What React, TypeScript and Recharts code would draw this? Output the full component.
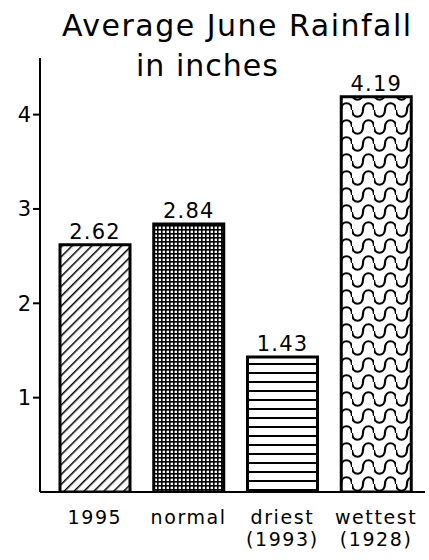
import { BarChart, Bar, XAxis, YAxis, LabelList, Cell } from "recharts";

// Average June rainfall (inches)
const categories = ["1995", "normal", "driest", "wettest"];
const subLabels = ["", "", "(1993)", "(1928)"];
const rainfall = [2.62, 2.84, 1.43, 4.19];
const yTicks = [1, 2, 3, 4];
const fills = ["url(#hatch)", "url(#dots)", "url(#lines)", "url(#waves)"];

const FONT = "'DejaVu Sans', sans-serif";

const data = categories.map((name, i) => ({ name, sub: subLabels[i], value: rainfall[i] }));

function CategoryTick({ x, y, payload, index }: any) {
    const sub = subLabels[index];
    return (
        <g transform={`translate(${x},${y})`}>
            <text textAnchor="middle" fontFamily={FONT} fontSize={19} fill="#000" letterSpacing={1.6}>
                <tspan x={0} dy={24}>{payload.value}</tspan>
                {sub && <tspan x={0} dy={22}>{sub}</tspan>}
            </text>
        </g>
    );
}

export default function App() {
    return (
        <div style={{ position: "absolute", left: 0, top: 0, width: 429, height: 560, background: "#fff" }}>
            <div
                style={{
                    position: "absolute",
                    left: 62,
                    top: 6,
                    fontFamily: FONT,
                    fontSize: 30,
                    lineHeight: "40px",
                    letterSpacing: 1.5,
                    whiteSpace: "nowrap",
                }}
            >
                Average June Rainfall
                <br />
                <span style={{ marginLeft: 74, letterSpacing: 1 }}>in inches</span>
            </div>
            <BarChart
                width={429}
                height={560}
                data={data}
                margin={{ top: 58, right: 4, left: 0, bottom: 8 }}
            >
                <defs>
                    <pattern id="hatch" width={7} height={7} patternUnits="userSpaceOnUse" patternTransform="rotate(45)">
                        <rect width={7} height={7} fill="#fff" />
                        <line x1={0} y1={0} x2={0} y2={7} stroke="#000" strokeWidth={3} />
                    </pattern>
                    <pattern id="dots" width={4} height={4} patternUnits="userSpaceOnUse">
                        <rect width={4} height={4} fill="#fff" />
                        <rect x={0} y={1} width={4} height={1.6} fill="#000" />
                        <rect x={1} y={0} width={1.6} height={4} fill="#000" />
                    </pattern>
                    <pattern id="lines" width={10} height={9} patternUnits="userSpaceOnUse">
                        <rect width={10} height={9} fill="#fff" />
                        <line x1={0} y1={4} x2={10} y2={4} stroke="#000" strokeWidth={2} />
                    </pattern>
                    <pattern id="waves" width={22} height={17} patternUnits="userSpaceOnUse">
                        <rect width={22} height={17} fill="#fff" />
                        <path
                            d="M0,8 C0,17 11,17 11,8 C11,-1 22,-1 22,8"
                            fill="none"
                            stroke="#000"
                            strokeWidth={2.2}
                        />
                    </pattern>
                </defs>
                <XAxis
                    dataKey="name"
                    height={60}
                    padding={{ left: 8, right: 2 }}
                    axisLine={{ stroke: "#000", strokeWidth: 2 }}
                    tickLine={false}
                    tick={<CategoryTick />}
                    interval={0}
                />
                <YAxis
                    width={40}
                    domain={[0, 4.6]}
                    ticks={yTicks}
                    allowDataOverflow
                    axisLine={{ stroke: "#000", strokeWidth: 2 }}
                    tickLine={{ stroke: "#000", strokeWidth: 2 }}
                    tickSize={7}
                    tick={{ fill: "#000", fontSize: 21, fontFamily: FONT }}
                />
                <Bar dataKey="value" stroke="#000" strokeWidth={3} barSize={70} isAnimationActive={false}>
                    {data.map((d, i) => (
                        <Cell key={d.name} fill={fills[i]} />
                    ))}
                    <LabelList
                        dataKey="value"
                        position="top"
                        offset={6}
                        formatter={(v: any) => Number(v).toFixed(2)}
                        style={{ fill: "#000", fontSize: 21, fontFamily: FONT, letterSpacing: 1.2 }}
                    />
                </Bar>
            </BarChart>
        </div>
    );
}
